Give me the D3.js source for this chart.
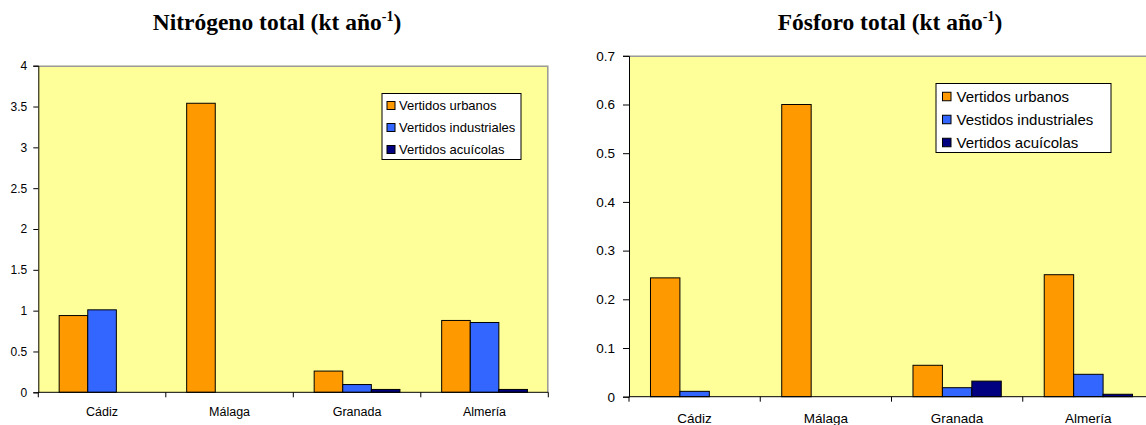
<!DOCTYPE html>
<html><head><meta charset="utf-8">
<script src="https://cdn.jsdelivr.net/npm/d3@7"></script>
<style>body{margin:0;background:#fff;overflow:hidden}svg{display:block}</style>
</head><body>
<svg id="c" width="1146" height="425"></svg>
<script>
const categories = ["Cádiz", "Málaga", "Granada", "Almería"];
const seriesN = ["Vertidos urbanos", "Vertidos industriales", "Vertidos acuícolas"];
const seriesP = ["Vertidos urbanos", "Vestidos industriales", "Vertidos acuícolas"];
const nUrbanos = [0.94, 3.54, 0.26, 0.88];
const nIndustriales = [1.01, 0, 0.095, 0.855];
const nAcuicolas = [0, 0, 0.035, 0.035];
const pUrbanos = [0.244, 0.600, 0.0645, 0.2505];
const pIndustriales = [0.011, 0, 0.0185, 0.046];
const pAcuicolas = [0, 0, 0.032, 0.005];
const nTicks = [0, 0.5, 1, 1.5, 2, 2.5, 3, 3.5, 4];
const pTicks = [0, 0.1, 0.2, 0.3, 0.4, 0.5, 0.6, 0.7];
const colors = ["#FF9900", "#3366FF", "#000080"];

const svg = d3.select("#c");

function chart(o) {
  const g = svg.append("g");
  const x = d3.scaleBand().domain(categories).range([o.x0, o.x1]).paddingInner(0).paddingOuter(0);
  const xs = d3.scaleBand().domain([0,1,2]).range([0, x.bandwidth()]).paddingInner(0).paddingOuter(0.73);
  const y = d3.scaleLinear().domain([0, o.max]).range([o.y0, o.y1]);
  // plot area
  g.append("rect").attr("x", o.x0).attr("y", o.y1).attr("width", o.x1 - o.x0).attr("height", o.y0 - o.y1)
    .attr("fill", "#FFFF99");
  g.append("path").attr("d", `M${o.x0},${o.y1 + 0.5}H${o.x1 - 0.5}V${o.y0}`).attr("fill", "none")
    .attr("stroke", "#9a9a9a").attr("stroke-width", 1.5);
  // bars
  const data = [];
  o.series.forEach((vals, si) => vals.forEach((v, ci) => { if (v > 0) data.push({c: categories[ci], s: si, v}); }));
  g.selectAll("rect.bar").data(data).join("rect").attr("class", "bar")
    .attr("x", d => x(d.c) + xs(d.s)).attr("width", xs.bandwidth())
    .attr("y", d => y(d.v)).attr("height", d => y(0) - y(d.v))
    .attr("fill", d => colors[d.s]).attr("stroke", "#000").attr("stroke-width", 1);
  // y axis
  const ya = d3.axisLeft(y).tickValues(o.ticks).tickSize(o.tickLen).tickPadding(o.tickPad).tickFormat(d3.format("~g"));
  const yg = g.append("g").attr("transform", `translate(${o.x0},0)`).call(ya);
  yg.select(".domain").attr("stroke", "#000");
  yg.selectAll("text").attr("font-family", "Liberation Sans, Arial, sans-serif").attr("font-size", o.tickFs).attr("fill", "#000");
  // x axis
  const xa = g.append("g").attr("transform", `translate(0,${o.y0})`);
  xa.append("line").attr("x1", o.x0).attr("x2", o.x1).attr("stroke", "#000");
  xa.selectAll("line.t").data(categories.map(c => x(c)).concat([o.x1])).join("line").attr("class", "t")
    .attr("x1", d => d).attr("x2", d => d).attr("y1", 0).attr("y2", 5).attr("stroke", "#000");
  xa.selectAll("text.cat").data(categories).join("text").attr("class", "cat")
    .attr("x", d => x(d) + x.bandwidth() / 2).attr("y", o.labDy).attr("text-anchor", "middle")
    .attr("font-family", "Liberation Sans, Arial, sans-serif").attr("font-size", o.catFs).text(d => d);
  // title
  const t = g.append("text").attr("x", o.tx).attr("y", 30).attr("text-anchor", "middle")
    .attr("font-family", "Liberation Serif, Times New Roman, serif").attr("font-weight", "bold").attr("font-size", 23.5);
  t.append("tspan").text(o.title + " (kt año");
  t.append("tspan").attr("font-size", 14).attr("dy", -9).text("-1");
  t.append("tspan").attr("dy", 9).text(")");
  // legend
  const L = o.leg;
  const lg = g.append("g");
  lg.append("rect").attr("x", L.x).attr("y", L.y).attr("width", L.w).attr("height", L.h)
    .attr("fill", "#fff").attr("stroke", "#000");
  o.names.forEach((n, i) => {
    const cy = L.y + L.first + i * L.step;
    lg.append("rect").attr("x", L.x + L.sx).attr("y", cy - L.sw / 2).attr("width", L.sw).attr("height", L.sw)
      .attr("fill", colors[i]).attr("stroke", "#000");
    lg.append("text").attr("x", L.x + L.tx).attr("y", cy).attr("dy", "0.35em")
      .attr("font-family", "Liberation Sans, Arial, sans-serif").attr("font-size", L.fs).text(n);
  });
}

chart({x0: 38.3, x1: 548.3, y0: 392.3, y1: 65.7, max: 4, ticks: nTicks, tickFs: 12, tickLen: 5, tickPad: 6,
  catFs: 12.5, labDy: 24,
  series: [nUrbanos, nIndustriales, nAcuicolas], names: seriesN, title: "Nitrógeno total", tx: 277,
  leg: {x: 382, y: 93.5, w: 139, h: 66, first: 12, step: 22, sw: 8, sx: 5, tx: 17, fs: 13}});
chart({x0: 629, x1: 1154, y0: 396.7, y1: 55.8, max: 0.7, ticks: pTicks, tickFs: 13.5, tickLen: 6, tickPad: 8,
  catFs: 13.5, labDy: 26.5,
  series: [pUrbanos, pIndustriales, pAcuicolas], names: seriesP, title: "Fósforo total", tx: 890,
  leg: {x: 936, y: 83.5, w: 175, h: 69, first: 13, step: 23, sw: 8.5, sx: 6.5, tx: 20.5, fs: 15}});
</script>
</body></html>
